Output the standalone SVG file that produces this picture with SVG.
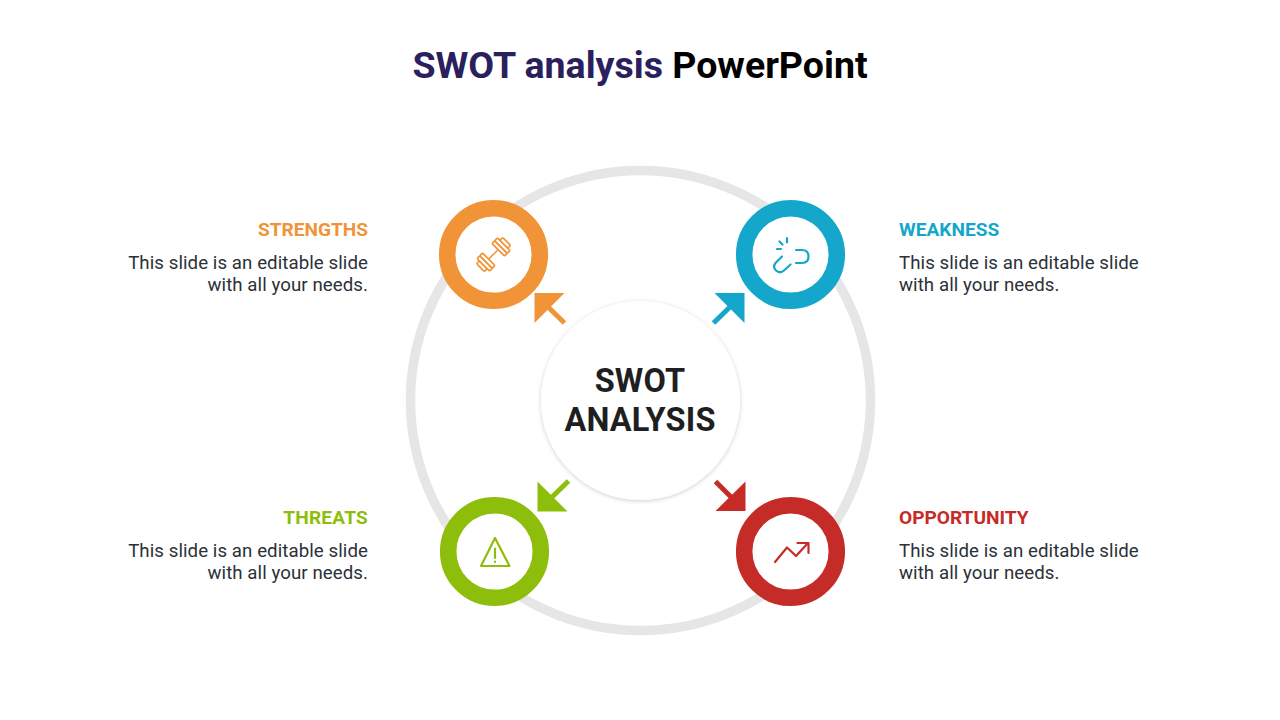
<svg xmlns="http://www.w3.org/2000/svg" width="1280" height="720" viewBox="0 0 1280 720">
<style>
text{font-family:Roboto,"Liberation Sans",sans-serif}
.t{font-size:37.5px;font-weight:700}
.c{font-size:32.5px;letter-spacing:.2px;font-weight:700;fill:#1f1f21;text-anchor:middle}
.h{font-size:19.1px;font-weight:700}
.b{font-size:18.67px;letter-spacing:.07px;fill:#2b3138}
.e{text-anchor:end}
.ring{fill:#fff;stroke-width:16.5}
.ico{fill:none;stroke-width:2.200;stroke-linecap:round;stroke-linejoin:round}
.ic1{fill:none;stroke-width:1.500;stroke-linejoin:round}
</style>
<defs>
<filter id="sh" x="-10%" y="-10%" width="120%" height="120%"><feDropShadow dx="0" dy="1" stdDeviation="2.200" flood-color="#000" flood-opacity="0.2"/></filter>
</defs>
<rect width="1280" height="720" fill="#fff"/>
<text class="t" x="640" y="78" text-anchor="middle"><tspan fill="#2a205e">SWOT analysis </tspan><tspan fill="#000">PowerPoint</tspan></text>
<circle id="outer-ring" cx="640.5" cy="400.5" r="230" fill="none" stroke="#e6e6e6" stroke-width="9.5"/>
<g id="connectors">
<g fill="#f09437" stroke="#f09437"><path stroke="none" d="M534.5 293H564.5L534.5 323Z"/><path fill="none" stroke-width="5" d="M546 305L564.5 323"/></g>
<g fill="#15a7cb" stroke="#15a7cb"><path stroke="none" d="M714.5 293H744.5V323Z"/><path fill="none" stroke-width="5" d="M732 305L713.5 323"/></g>
<g fill="#8dbe0b" stroke="#8dbe0b"><path stroke="none" d="M537.5 481.5V511.5H567.5Z"/><path fill="none" stroke-width="5" d="M550 499L568.5 481"/></g>
<g fill="#c52b27" stroke="#c52b27"><path stroke="none" d="M745.5 481.5V511H715.5Z"/><path fill="none" stroke-width="5" d="M733 499L715.5 481.5"/></g>
</g>
<g id="center">
<circle cx="640.5" cy="400.500" r="99.500" fill="#fff" filter="url(#sh)"/>
<text class="c" x="640" y="391.500">SWOT</text>
<text class="c" x="640" y="430.500">ANALYSIS</text>
</g>
<g id="strengths">
<circle class="ring" cx="493.500" cy="254.500" r="46.300" stroke="#f09437"/>
<g class="ic1" stroke="#f09437">
<path d="M485 262.500L502 246"/>
<g transform="translate(493.500 254.500) rotate(-45) scale(1.120)">
<rect x="-16.500" y="-5" width="3.500" height="10" rx="1.500" fill="#fff"/>
<rect x="-13" y="-8" width="3.500" height="16" rx="1.500" fill="#fff"/>
<rect x="-9.500" y="-8" width="3.500" height="16" rx="1.500" fill="#fff"/>
<rect x="6" y="-8" width="3.500" height="16" rx="1.500" fill="#fff"/>
<rect x="9.500" y="-8" width="3.500" height="16" rx="1.500" fill="#fff"/>
<rect x="13" y="-5" width="3.500" height="10" rx="1.500" fill="#fff"/>
</g>
</g>
<text class="h e" x="368" y="236" fill="#f09437">STRENGTHS</text>
<text class="b e" x="368" y="269">This slide is an editable slide</text>
<text class="b e" x="368" y="291">with all your needs.</text>
</g>
<g id="weakness">
<circle class="ring" cx="790.500" cy="254.500" r="46.300" stroke="#15a7cb"/>
<g class="ico" stroke="#15a7cb">
<path d="M796 250H802Q808.500 250 808.500 256.500Q808.500 263 802 263H796"/>
<path d="M782 256.500L775.500 263Q772.500 267 776 270.500Q780 274 784 270.500L790.500 264.500"/>
<path d="M787 238V242.500"/>
<path d="M779.500 241.500L782.500 244.500"/>
<path d="M777 249H781"/>
</g>
<text class="h" x="899" y="236" fill="#15a7cb">WEAKNESS</text>
<text class="b" x="899" y="269">This slide is an editable slide</text>
<text class="b" x="899" y="291">with all your needs.</text>
</g>
<g id="threats">
<circle class="ring" cx="494.500" cy="551.500" r="46.300" stroke="#8dbe0b"/>
<g class="ico" stroke="#8dbe0b">
<path d="M495 538L509.500 566H481Z"/>
<path d="M495 548.500V558"/>
<path d="M495 561.500V562"/>
</g>
<text class="h e" x="368" y="524" fill="#8dbe0b" letter-spacing=".2">THREATS</text>
<text class="b e" x="368" y="557">This slide is an editable slide</text>
<text class="b e" x="368" y="579">with all your needs.</text>
</g>
<g id="opportunity">
<circle class="ring" cx="790.500" cy="551.500" r="46.300" stroke="#c52b27"/>
<g class="ico" stroke="#c52b27">
<path d="M775 562L787 547.500L796 556L808 543"/>
<path d="M797.500 543H808.500V553"/>
</g>
<text class="h" x="899" y="524" fill="#c52b27">OPPORTUNITY</text>
<text class="b" x="899" y="557">This slide is an editable slide</text>
<text class="b" x="899" y="579">with all your needs.</text>
</g>
</svg>
